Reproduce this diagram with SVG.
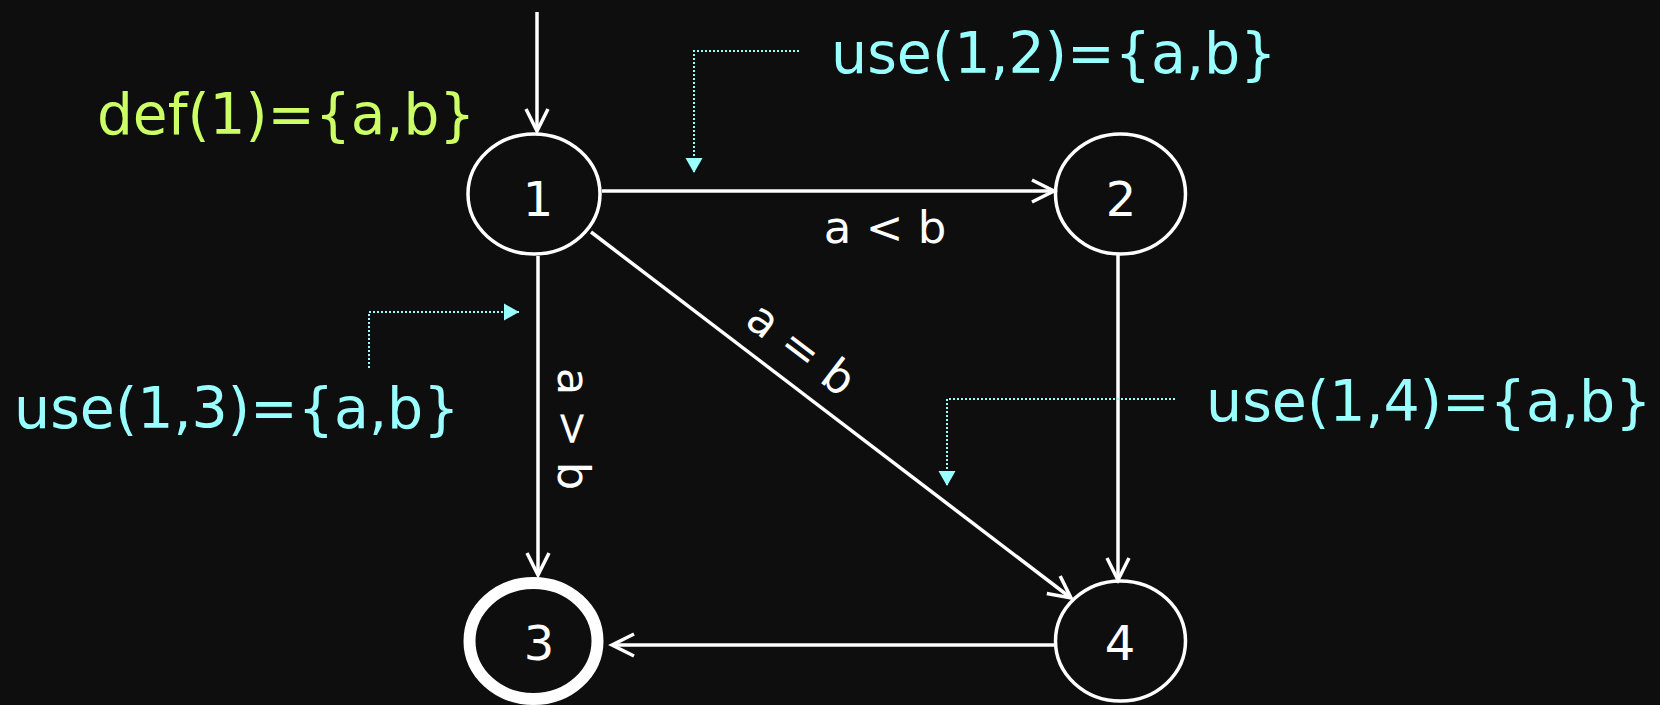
<svg xmlns="http://www.w3.org/2000/svg" width="1660" height="705" viewBox="0 0 1660 705">
<style>
.node{fill:none;stroke:#ffffff;stroke-width:3.5}
.final{fill:none;stroke:#ffffff;stroke-width:12}
.num{font-family:"DejaVu Sans","Liberation Sans",sans-serif;font-size:48px;fill:#ffffff;text-anchor:middle}
.lbl{font-family:"DejaVu Sans","Liberation Sans",sans-serif;font-size:45px;fill:#ffffff;text-anchor:middle}
.edge{fill:none;stroke:#ffffff;stroke-width:3.5;marker-end:url(#open)}
.dot{fill:none;stroke:#99ffff;stroke-width:2;stroke-dasharray:2 2;marker-end:url(#tri)}
.use{font-family:"DejaVu Sans","Liberation Sans",sans-serif;font-size:57px;fill:#99ffff}
.def{font-family:"DejaVu Sans","Liberation Sans",sans-serif;font-size:56.5px;fill:#ccff66}
</style>
<defs>
<marker id="open" markerUnits="userSpaceOnUse" viewBox="-26 -15 30 30" refX="0" refY="0" markerWidth="30" markerHeight="30" orient="auto">
<path d="M-22,-11 L0,0 L-22,11" fill="none" stroke="#ffffff" stroke-width="3.5"/>
</marker>
<marker id="tri" markerUnits="userSpaceOnUse" viewBox="-16 -10 18 20" refX="0" refY="0" markerWidth="18" markerHeight="20" orient="auto">
<path d="M-15,-8.5 L0,0 L-15,8.5 Z" fill="#99ffff"/>
</marker>
</defs>
<rect width="1660" height="705" fill="#0e0e0e"/>
<g id="connectors">
<path class="edge" d="M537,12 L537,131"/>
<path class="edge" d="M602,191 L1054,191"/>
<path class="edge" d="M538,256 L538,575"/>
<path class="edge" d="M591,232 L1071,598"/>
<path class="edge" d="M1118,255 L1118,580"/>
<path class="edge" d="M1055,645 L612,645"/>
<text class="lbl" x="885" y="243">a &lt; b</text>
<text class="lbl" transform="translate(558,429) rotate(90)">a &gt; b</text>
<text class="lbl" transform="translate(792,361) rotate(37.3)">a = b</text>
</g>
<g id="annotations">
<path class="dot" d="M799,51 L694,51 L694,173"/>
<path class="dot" d="M369,368 L369,312 L519,312"/>
<path class="dot" d="M1175,399 L947,399 L947,486"/>
<text class="def" x="97" y="134">def(1)={a,b}</text>
<text class="use" x="831" y="73">use(1,2)={a,b}</text>
<text class="use" x="14" y="428">use(1,3)={a,b}</text>
<text class="use" x="1206" y="421">use(1,4)={a,b}</text>
</g>
<g id="node1"><ellipse class="node" cx="534" cy="194" rx="66" ry="60"/><text class="num" x="538" y="216">1</text></g>
<g id="node2"><ellipse class="node" cx="1120.5" cy="194" rx="65" ry="60"/><text class="num" x="1121" y="216">2</text></g>
<g id="node3"><ellipse class="final" cx="533.5" cy="641" rx="64" ry="58"/><text class="num" x="539" y="660">3</text></g>
<g id="node4"><ellipse class="node" cx="1120.5" cy="641" rx="65" ry="60"/><text class="num" x="1120" y="660">4</text></g>
</svg>
